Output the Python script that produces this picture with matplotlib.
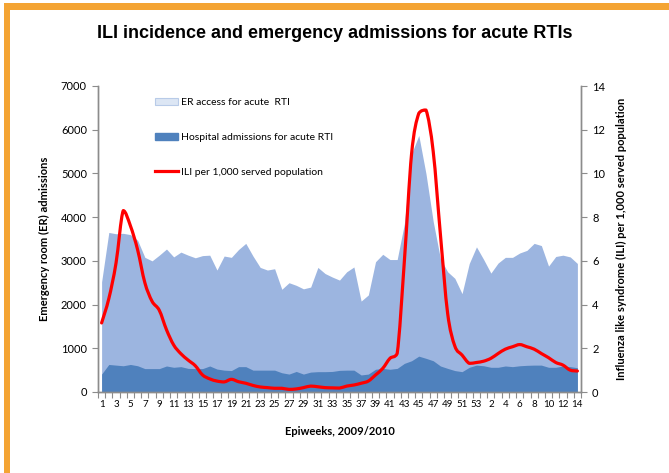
import matplotlib
matplotlib.use("Agg")
import matplotlib.pyplot as plt
from matplotlib.path import Path
from matplotlib.patches import PathPatch, Patch, Rectangle
from matplotlib.lines import Line2D
import numpy as np

plt.rcParams["font.family"] = ["Lato", "DejaVu Sans"]

# Epiweeks: 53 weeks of 2009 followed by 14 weeks of 2010
weeks_2009 = list(range(1, 54))
weeks_2010 = list(range(1, 15))

# ER access for acute RTI (left axis)
er_access = [2520, 3650, 3620, 3630, 3600, 3470, 3080, 3000, 3130, 3270,
             3090, 3200, 3130, 3070, 3120, 3130, 2790, 3110, 3080, 3260,
             3400, 3110, 2850, 2790, 2820, 2350, 2500, 2440, 2360, 2400,
             2850, 2710, 2630, 2560, 2750, 2860, 2080, 2220, 2980, 3150,
             3030, 3030, 3850, 5450, 5870, 4990, 3900, 3050, 2750, 2600,
             2250, 2940, 3320,
             3030, 2720, 2950, 3080, 3080, 3180, 3240, 3400, 3350, 2880,
             3100, 3130, 3090, 2940]

# Hospital admissions for acute RTI (left axis)
hosp_adm = [410, 630, 615, 600, 630, 600, 535, 535, 535, 595,
            565, 580, 540, 535, 535, 595, 525, 500, 490, 580,
            580, 500, 500, 500, 500, 440, 410, 470, 410, 455,
            465, 465, 470, 495, 500, 500, 390, 410, 520, 540,
            520, 540, 655, 715, 820, 770, 715, 595, 540, 490,
            465, 565, 615,
            600, 565, 565, 595, 580, 600, 610, 615, 615, 565,
            565, 595, 580, 555]

# ILI per 1,000 served population (right axis)
ili = [3.16, 4.27, 5.9, 8.3, 7.6, 6.5, 5.0, 4.15, 3.74, 2.85,
       2.15, 1.75, 1.46, 1.2, 0.78, 0.6, 0.5, 0.46, 0.58, 0.47,
       0.4, 0.3, 0.23, 0.2, 0.17, 0.17, 0.12, 0.14, 0.2, 0.27,
       0.24, 0.2, 0.19, 0.18, 0.27, 0.32, 0.4, 0.5, 0.78, 1.08,
       1.54, 1.76, 6.0, 10.9, 12.75, 12.9, 11.0, 7.2, 3.6, 2.1,
       1.69, 1.31, 1.35,
       1.41, 1.54, 1.76, 1.96, 2.07, 2.17, 2.07, 1.96, 1.76, 1.57,
       1.35, 1.23, 1.0, 0.96]

LIGHT = "#9cb5e0"
DARK = "#4f81bd"
GREY = "#8c8c8c"
ORANGE = "#f4a433"

x = np.arange(len(er_access))
tick_text = [str(w) if w % 2 == 1 else "" for w in weeks_2009] + \
            [str(w) if w % 2 == 0 else "" for w in weeks_2010]


# smoothed line: cubic bezier through the points, control y kept inside
# the segment range so it doesn't dip/overshoot
def smooth_path(xs, ys):
    pts = np.column_stack([xs, ys]).astype(float)
    verts = [pts[0]]
    codes = [Path.MOVETO]
    n = len(pts)
    for i in range(n - 1):
        p0 = pts[i - 1] if i > 0 else pts[i]
        p1 = pts[i]
        p2 = pts[i + 1]
        p3 = pts[i + 2] if i + 2 < n else pts[i + 1]
        c1 = p1 + (p2 - p0) / 6.0
        c2 = p2 - (p3 - p1) / 6.0
        lo, hi = min(p1[1], p2[1]), max(p1[1], p2[1])
        c1[1] = min(max(c1[1], lo), hi)
        c2[1] = min(max(c2[1], lo), hi)
        verts += [c1, c2, p2]
        codes += [Path.CURVE4] * 3
    return Path(verts, codes)


fig = plt.figure(figsize=(6.69, 4.73), dpi=100)
ax = fig.add_axes([98 / 669, 1 - 392 / 473, 483 / 669, 306 / 473])
ax2 = ax.twinx()

ax.fill_between(x, 0, er_access, color=LIGHT, lw=0)
ax.fill_between(x, 0, hosp_adm, color=DARK, lw=0)

ax2.add_patch(PathPatch(smooth_path(x, ili), facecolor="none",
                        edgecolor="#ff0000", lw=2.3, capstyle="round",
                        joinstyle="round"))

ax.set_xlim(-0.5, len(x) - 0.5)
ax.set_ylim(0, 7000)
ax2.set_ylim(0, 14)
ax.set_yticks(range(0, 7001, 1000))
ax2.set_yticks(range(0, 15, 2))

# tick marks between categories, labels at category centres
ax.set_xticks(np.arange(-0.5, len(x), 1.0))
ax.set_xticklabels([])
ax.set_xticks(x, minor=True)
ax.set_xticklabels(tick_text, minor=True)
ax.tick_params(axis="x", which="major", length=4, color=GREY, direction="out")
ax.tick_params(axis="x", which="minor", length=0, labelsize=7, pad=6)

ax.tick_params(axis="y", length=4, color=GREY, labelsize=8, pad=4)
ax2.tick_params(axis="y", length=4, color=GREY, labelsize=8, pad=4)

for a in (ax, ax2):
    a.spines["top"].set_visible(False)
    for s in ("left", "right", "bottom"):
        a.spines[s].set_color(GREY)
        a.spines[s].set_linewidth(1.0)

ax.set_ylabel("Emergency room (ER) admissions", fontsize=8,
              fontweight="bold", labelpad=8)
ax2.set_ylabel("Influenza like syndrome (ILI) per 1,000 served population",
               fontsize=8, fontweight="bold", labelpad=8)
ax.set_xlabel("Epiweeks, 2009/2010", fontsize=8, fontweight="bold",
              labelpad=12)

handles = [Patch(facecolor="#dce6f4", edgecolor="#b8cbe8", lw=0.8),
           Patch(facecolor=DARK, edgecolor=DARK),
           Line2D([], [], color="#ff0000", lw=2.3)]
labels = ["ER access for acute  RTI",
          "Hospital admissions for acute RTI",
          "ILI per 1,000 served population"]
ax2.legend(handles, labels, loc="upper left", bbox_to_anchor=(0.11, 0.975),
           frameon=False, fontsize=7.5, labelspacing=2.45, handlelength=2.2,
           handleheight=0.7, handletextpad=0.3, borderaxespad=0)

fig.text(0.5, 1 - 33 / 473, "ILI incidence and emergency admissions for acute RTIs",
         ha="center", va="center", fontsize=13, fontweight="bold",
         family="Liberation Sans")

# orange frame (top and left)
fig.patches.append(Rectangle((4 / 669, 1 - 10 / 473), 1, 7 / 473,
                             transform=fig.transFigure, color=ORANGE, lw=0))
fig.patches.append(Rectangle((4 / 669, 0), 6 / 669, 1 - 3 / 473,
                             transform=fig.transFigure, color=ORANGE, lw=0))

fig.savefig("out.png", dpi=100)
